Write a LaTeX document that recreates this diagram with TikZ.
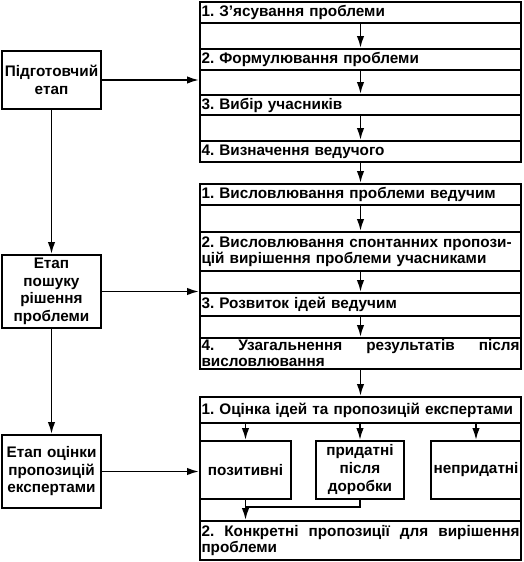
\documentclass[tikz,border=0pt]{standalone}
\usepackage{fontspec}
\setmainfont{Liberation Sans}
\usetikzlibrary{arrows.meta}
\begin{document}
\frenchspacing
\begin{tikzpicture}[x=1pt,y=-1pt,
  every node/.style={font=\bfseries\fontsize{15.3}{16}\selectfont},
  box/.style={draw,line width=2pt,inner sep=0pt},
  band/.style={box,anchor=north west,minimum width=321pt,text width=318pt,inner xsep=1.5pt,align=left},
  frame/.style={draw,line width=2pt,anchor=north west,minimum width=321pt,inner sep=0pt},
  stage/.style={box,anchor=north west,minimum width=99pt,minimum height=73pt,text width=97pt,inner xsep=1pt,align=center,font=\bfseries\fontsize{15.3}{17.5}\selectfont},
  sub/.style={box,anchor=north west,minimum height=58pt,align=center,font=\bfseries\fontsize{15.3}{18}\selectfont},
  arr/.style={line width=1.8pt,-{Latex[length=12pt,width=7.5pt]}},
  ln/.style={line width=1.8pt}]
\useasboundingbox (0,0) rectangle (524,562);
% group 1
\node[frame,minimum height=160pt] (g1) at (199,1) {};
\node[band,minimum height=21pt] (b11) at (199,1) {1. З’ясування проблеми};
\node[band,minimum height=21pt] (b12) at (199,48) {2. Формулювання проблеми};
\node[band,minimum height=20pt] (b13) at (199,94) {3. Вибір учасників};
\node[band,minimum height=21pt] (b14) at (199,140) {4. Визначення ведучого};
% group 2
\node[frame,minimum height=185pt] (g2) at (199,183) {};
\node[band,minimum height=21pt] (b21) at (199,183) {1. Висловлювання проблеми ведучим};
\node[band,minimum height=39pt] (b22) at (199,231) {2. Висловлювання спонтанних пропози-\\цій вирішення проблеми учасниками};
\node[band,minimum height=23pt] (b23) at (199,292) {3. Розвиток ідей ведучим};
\node[band,minimum height=31pt] (b24) at (199,337) {4.\hfill Узагальнення\hfill результатів\hfill після\\висловлювання};
% group 3
\node[frame,minimum height=163pt] (g3) at (199,396) {};
\node[band,minimum height=26pt] (b31) at (199,396) {1. Оцінка ідей та пропозицій експертами};
\node[sub,minimum width=91pt] (pos) at (199,440) {позитивні};
\node[sub,minimum width=88pt] (prid) at (315,440) {придатні\\після\\доробки};
\node[sub,minimum width=90pt] (nepr) at (430,440) {непридатні};
\node[band,minimum height=39pt] (b32) at (199,520) {2.\hfill Конкретні\hfill пропозиції\hfill для\hfill вирішення\\проблеми};
% stages
\node[stage,minimum height=58pt] (prep) at (1,50) {Підготовчий\\етап};
\node[stage] (search) at (1,254) {Етап\\пошуку\\рішення\\проблеми};
\node[stage] (eval) at (1,434) {Етап оцінки\\пропозицій\\експертами};
\coordinate (jy) at (0,507);
% connectors
\draw[arr] (b11) -- (b12);
\draw[arr] (b12) -- (b13);
\draw[arr] (b13) -- (b14);
\draw[arr] (b14) -- (b21);
\draw[arr] (b21) -- (b22);
\draw[arr] (b22) -- (b23);
\draw[arr] (b23) -- (b24);
\draw[arr] (b24) -- (b31);
\draw[arr] (b31.south -| pos.north) -- (pos.north);
\draw[arr] (b31.south -| prid.north) -- (prid.north);
\draw[arr] (b31.south -| nepr.north) -- (nepr.north);
\draw[arr] (pos.south) -- (pos.south |- b32.north);
\draw[ln] (prid.south) |- (pos.south |- jy);
\draw[arr] (prep) -- (prep -| g1.west);
\draw[arr] (search) -- (search -| g2.west);
\draw[arr] (eval) -- (eval -| pos.west);
\draw[arr] (prep) -- (search);
\draw[arr] (search) -- (eval);
\end{tikzpicture}
\end{document}
